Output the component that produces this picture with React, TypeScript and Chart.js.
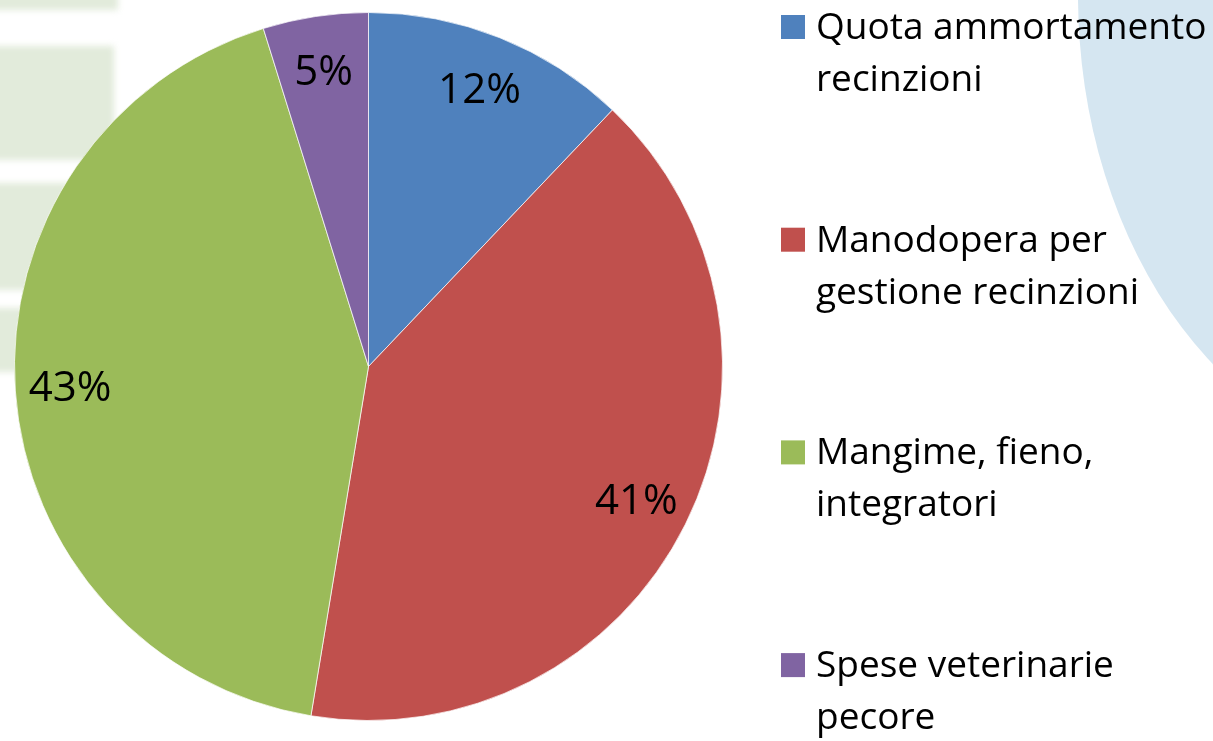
import React, { useEffect, useRef } from "react";
import { Chart, registerables } from "chart.js";

Chart.register(...registerables);

const categories: string[][] = [
  ["Quota ammortamento", "recinzioni"],
  ["Manodopera per", "gestione recinzioni"],
  ["Mangime, fieno,", "integratori"],
  ["Spese veterinarie", "pecore"],
];
const shares: number[] = [12.1, 40.5, 42.6, 4.8];
const sliceColors: string[] = ["#4F81BD", "#C0504D", "#9BBB59", "#8064A2"];

const FONT = '"Open Sans", "Noto Sans", sans-serif';

const backgroundPlugin = {
  id: "slideBackground",
  beforeDraw(chart: any) {
    const ctx = chart.ctx as CanvasRenderingContext2D;
    ctx.save();
    ctx.fillStyle = "#ffffff";
    ctx.fillRect(0, 0, chart.width, chart.height);
    // soft green stripes on the left
    ctx.filter = "blur(3px)";
    ctx.fillStyle = "#E2EBDB";
    ctx.fillRect(-10, -10, 128, 20);
    ctx.fillRect(-10, 46, 124, 114);
    ctx.fillRect(-10, 183, 104, 107);
    ctx.beginPath();
    ctx.moveTo(-10, 308);
    ctx.lineTo(80, 308);
    ctx.lineTo(30, 372);
    ctx.lineTo(-10, 372);
    ctx.closePath();
    ctx.fill();
    ctx.filter = "none";
    // light blue shape on the right
    ctx.fillStyle = "#D5E6F1";
    ctx.beginPath();
    ctx.ellipse(1432, -5, 354, 470, 0, 0, Math.PI * 2);
    ctx.fill();
    ctx.restore();
  },
};

const labelPlugin = {
  id: "sliceLabels",
  afterDatasetsDraw(chart: any) {
    const ctx = chart.ctx as CanvasRenderingContext2D;
    const meta = chart.getDatasetMeta(0);
    const data = chart.data.datasets[0].data as number[];
    const total = data.reduce((a, b) => a + b, 0);
    ctx.save();
    const fs = 42;
    ctx.font = `${fs}px ${FONT}`;
    ctx.fillStyle = "#000000";
    ctx.textAlign = "center";
    ctx.textBaseline = "alphabetic";
    meta.data.forEach((arc: any, i: number) => {
      const p = arc.getProps(["x", "y", "startAngle", "endAngle", "outerRadius"], true);
      const mid = (p.startAngle + p.endAngle) / 2;
      const r = p.outerRadius * 0.845;
      const x = p.x + Math.cos(mid) * r;
      const y = p.y + Math.sin(mid) * r;
      const pct = Math.round((data[i] * 100) / total);
      ctx.fillText(`${pct}%`, x, y + fs * 0.33);
    });
    ctx.restore();
  },
};

const legendPlugin = {
  id: "sideLegend",
  afterDraw(chart: any) {
    const ctx = chart.ctx as CanvasRenderingContext2D;
    const labels = chart.data.labels as string[][];
    const colors = chart.data.datasets[0].backgroundColor as string[];
    ctx.save();
    ctx.font = `37px ${FONT}`;
    ctx.fillStyle = "#000000";
    ctx.textAlign = "left";
    ctx.textBaseline = "alphabetic";
    const x0 = 781;
    const firstBase = 39;
    const step = 212.7;
    const lineH = 52;
    labels.forEach((lines, i) => {
      const base = firstBase + i * step;
      ctx.fillStyle = colors[i];
      ctx.fillRect(x0, base - 24, 24, 24);
      ctx.fillStyle = "#000000";
      lines.forEach((t, j) => ctx.fillText(t, x0 + 35, base + j * lineH));
    });
    ctx.restore();
  },
};

export default function App() {
  const ref = useRef<HTMLCanvasElement | null>(null);
  useEffect(() => {
    if (!ref.current) return;
    const chart = new Chart(ref.current, {
      type: "pie",
      data: {
        labels: categories,
        datasets: [
          {
            data: shares,
            backgroundColor: sliceColors,
            borderColor: "rgba(255,255,255,0.7)",
            borderWidth: 1,
          },
        ],
      },
      options: {
        animation: false,
        responsive: true,
        maintainAspectRatio: false,
        layout: { padding: { left: 14, top: 12, right: 490, bottom: 20 } },
        plugins: {
          legend: { display: false },
          tooltip: { enabled: false },
        },
      },
      plugins: [backgroundPlugin, labelPlugin, legendPlugin],
    });
    return () => chart.destroy();
  }, []);
  return (
    <div style={{ position: "fixed", left: 0, top: 0, width: 1213, height: 741 }}>
      <canvas ref={ref} />
    </div>
  );
}
